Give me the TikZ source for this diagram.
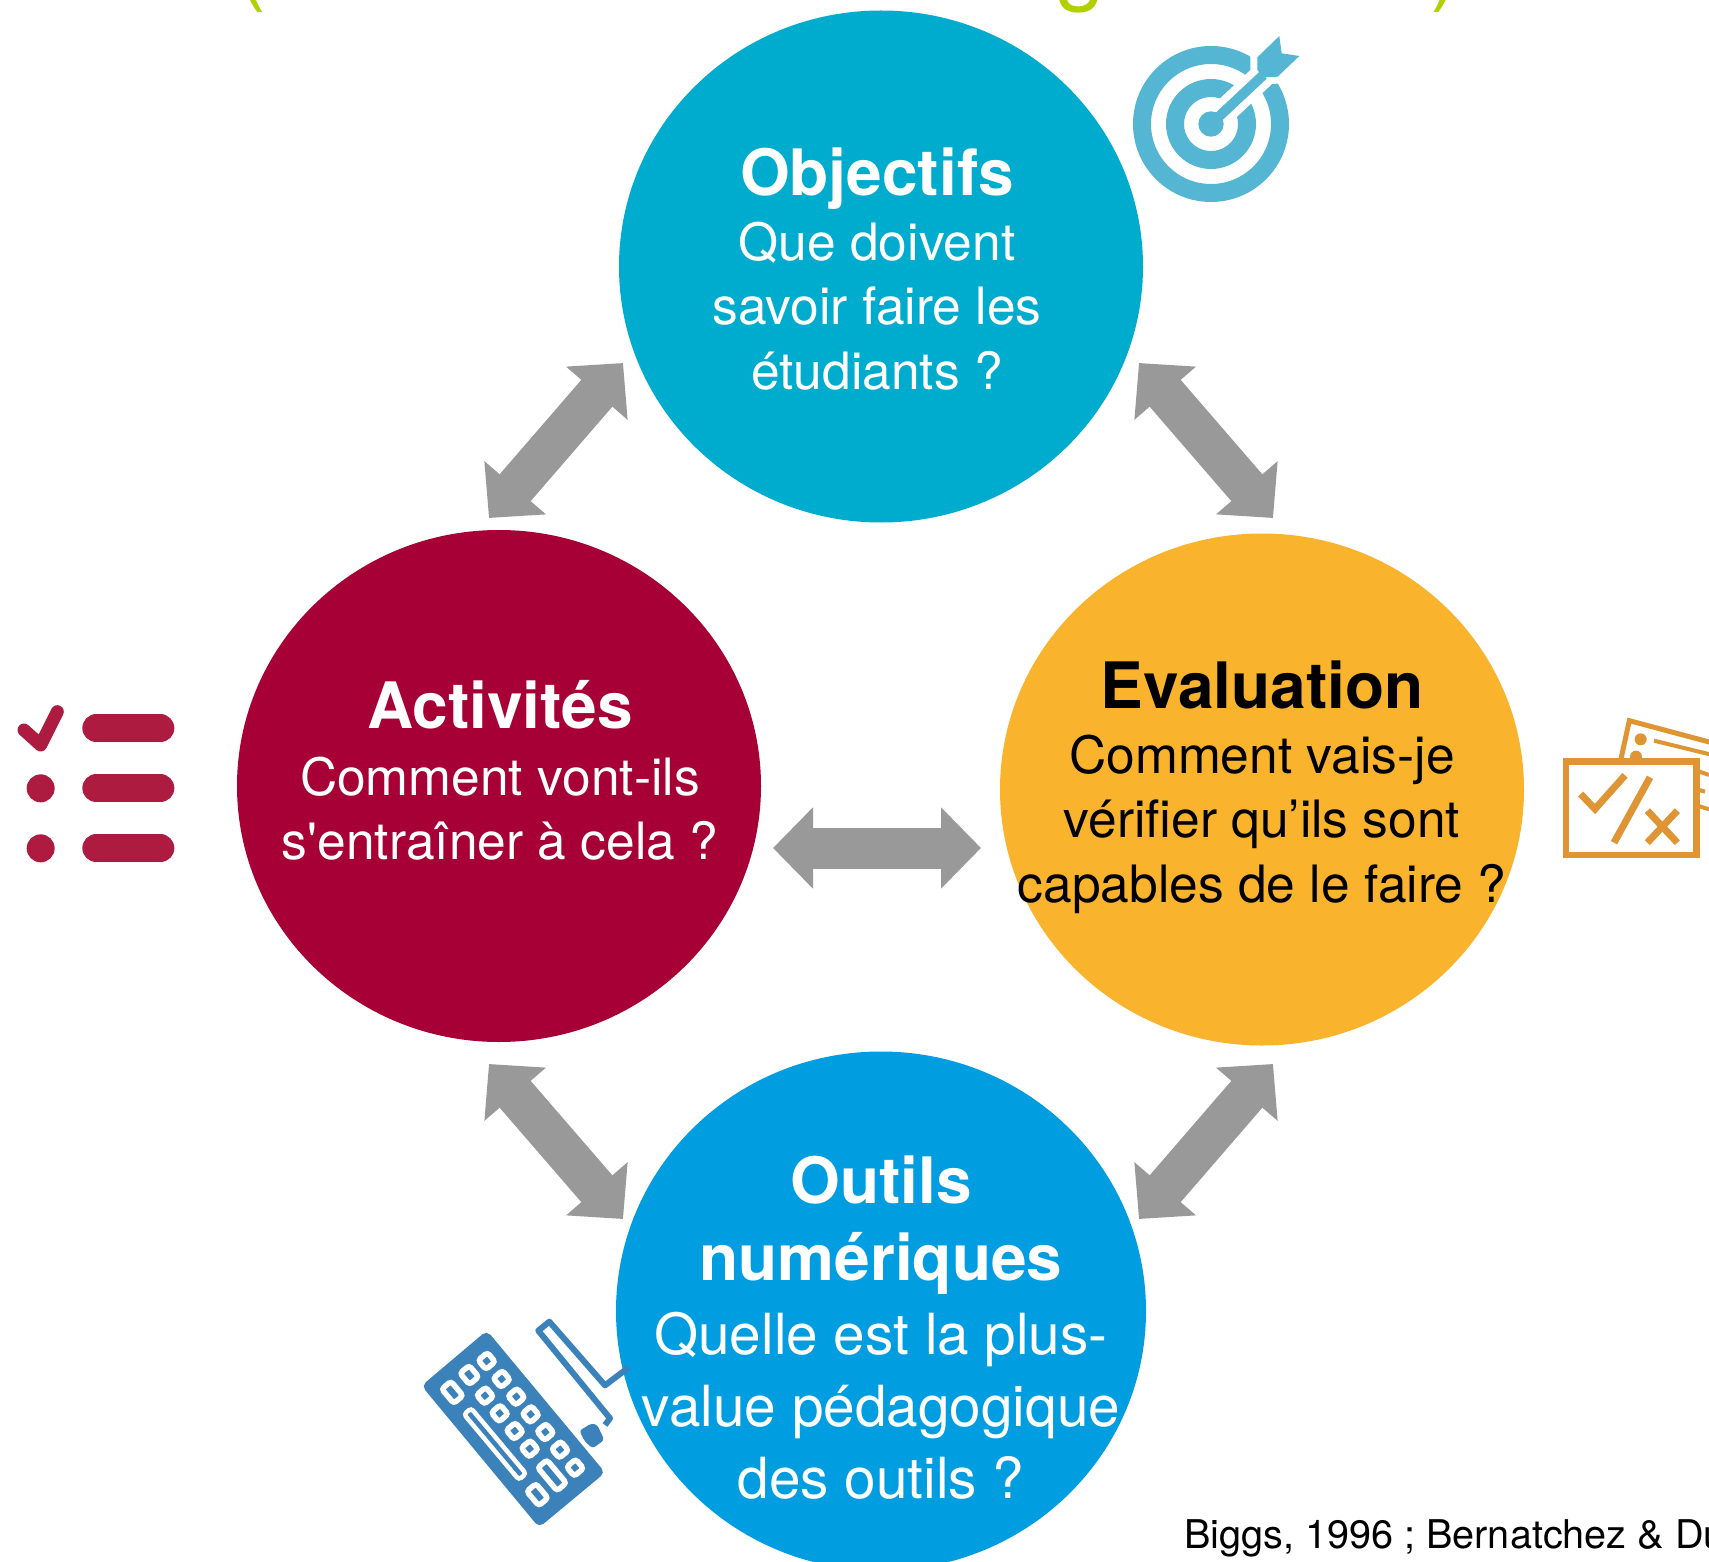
\documentclass[tikz,border=0pt]{standalone}
\usepackage{fontspec}
\setmainfont[Ligatures=TeXOff]{TeX Gyre Heros}
\usepackage{xcolor}
\usetikzlibrary{arrows.meta,positioning,calc,shapes.geometric}
\definecolor{objblue}{HTML}{00ACCD}
\definecolor{actred}{HTML}{A70037}
\definecolor{evalyellow}{HTML}{F9B32D}
\definecolor{toolblue}{HTML}{009DE0}
\definecolor{targetblue}{HTML}{55B6D3}
\definecolor{listred}{HTML}{AE1B40}
\definecolor{evalorange}{HTML}{DF9533}
\definecolor{keyblue}{HTML}{3B82BA}
\definecolor{arrowgray}{HTML}{999999}
\definecolor{titlegreen}{HTML}{B2D000}
\tikzset{
  bubble/.style={ellipse,inner sep=0pt,minimum width=524pt,minimum height=512pt},
  heading/.style={anchor=base,inner sep=0pt,font=\bfseries\fontsize{64}{70}\selectfont},
  bodytext/.style={anchor=base,inner sep=0pt,font=\fontsize{51.5}{60}\selectfont},
  bodybig/.style={anchor=base,inner sep=0pt,font=\fontsize{56.7}{66}\selectfont},
  titlebit/.style={anchor=base,inner sep=0pt,text=titlegreen,font=\fontsize{90}{100}\selectfont},
  bigarrow/.style={arrowgray,line width=41pt,
    {Triangle[length=40pt,width=79pt]}-{Triangle[length=40pt,width=79pt]}},
  keyring/.style={draw=white,line width=5.5pt,rounded corners=3pt},
}
\begin{document}
\begin{tikzpicture}[x=1pt,y=-1pt]
        \clip (0,0) rectangle (1709,1562);
        \fill[white] (0,0) rectangle (1709,1562);

        % Cut off title
        \node[titlebit] (titleopen) at (251,-6) {(};
        \node[titlebit] (titleg) at (1081,-6) {g};
        \node[titlebit] (titleclose) at (1445,-6) {)};

        % Circles
        \node[bubble,fill=objblue] (objectifs) at (881,266.5) {};
        \node[bubble,fill=actred] (activites) at (499,786) {};
        \node[bubble,fill=evalyellow] (evaluation) at (1262,789.5) {};
        \node[bubble,fill=toolblue,minimum width=530pt,minimum height=519pt] (outils) at (881,1311) {};

        % Double arrows
        \coordinate (tla) at (623,363);
        \coordinate (tlb) at (489,518);
        \coordinate (tra) at (1139,363);
        \coordinate (trb) at (1273,518);
        \coordinate (mida) at (773,848);
        \coordinate (midb) at (981,848);
        \coordinate (bla) at (489,1064);
        \coordinate (blb) at (623,1219);
        \coordinate (bra) at (1273,1064);
        \coordinate (brb) at (1139,1219);
        \draw[bigarrow] (tla) -- (tlb);
        \draw[bigarrow] (tra) -- (trb);
        \draw[bigarrow] (mida) -- (midb);
        \draw[bigarrow] (bla) -- (blb);
        \draw[bigarrow] (bra) -- (brb);

        % Objectifs
        \node[heading,text=white] (objhead) at (877,196) {Objectifs};
        \foreach \txt/\yy [count=\i] in {Que doivent/261,savoir faire les/325,étudiants ?/389} {
            \node[bodytext,text=white] (objline\i) at (877,\yy) {\txt};
        }

        % Activites
        \node[heading,text=white] (acthead) at (500,728) {Activités};
        \foreach \txt/\yy [count=\i] in {Comment vont-ils/795,s'entraîner à cela ?/859} {
            \node[bodytext,text=white] (actline\i) at (500,\yy) {\txt};
        }

        % Evaluation
        \node[heading,text=black] (evalhead) at (1262,708) {Evaluation};
        \foreach \txt/\yy [count=\i] in {Comment vais-je/773,vérifier qu’ils sont/837,capables de le faire ?/902} {
            \node[bodytext,text=black] (evalline\i) at (1262,\yy) {\txt};
        }

        % Outils
        \foreach \txt/\yy [count=\i] in {Outils/1203,numériques/1280} {
            \node[heading,text=white] (toolhead\i) at (881,\yy) {\txt};
        }
        \foreach \txt/\yy [count=\i] in {Quelle est la plus-/1354,value pédagogique/1426,des outils ?/1498} {
            \node[bodybig,text=white] (toolline\i) at (881,\yy) {\txt};
        }

        % Citation
        \node[anchor=base west,inner sep=0pt,font=\fontsize{39.6}{46}\selectfont] (citation) at (1184,1548) {Biggs, 1996 ; Bernatchez \& Du};

        % Target icon
        \begin{scope}[shift={(1100,0)},scale=1/3]
            \draw[targetblue,line width=18pt] (333,372) circle (207);
            \draw[targetblue,line width=18pt] (333,372) circle (108);
            \draw[white,line width=25pt] (333,372) -- (490,225);
            \fill[targetblue] (333,372) circle (38);
            \draw[white,line width=14pt,fill=white] (472,172) -- (538,108) -- (545,160) -- (598,168) -- (533,230) -- (490,232) -- (472,210) -- cycle;
            \draw[targetblue,line width=10pt] (333,372) -- (490,225);
            \fill[targetblue] (472,172) -- (538,108) -- (545,160) -- (598,168) -- (533,230) -- (490,232) -- (472,210) -- cycle;
        \end{scope}

        % List icon
        \begin{scope}[shift={(0,690)},scale=1/3]
            \foreach \yy in {115,295,475} {
                \draw[listred,line width=28pt,line cap=round] (289,\yy) -- (481,\yy);
            }
            \fill[listred] (122,295) circle (42);
            \fill[listred] (122,475) circle (42);
            \draw[listred,line width=13pt,line cap=round,line join=round] (72,120) -- (122,165) -- (172,65);
        \end{scope}

        % Test icon
        \begin{scope}[shift={(1540,700)},scale=1/3]
            \draw[evalorange,line width=5pt] (240,190) -- (268,62) -- (530,132);
            \fill[evalorange] (302,118) circle (18);
            \fill[evalorange] (288,170) circle (18);
            \draw[evalorange,line width=4pt] (342,122) -- (530,168);
            \draw[evalorange,line width=4pt] (470,212) -- (507,225);
            \draw[evalorange,line width=4pt] (470,268) -- (495,275);
            \draw[evalorange,line width=4pt] (470,316) -- (507,328);
            \draw[evalorange,line width=6.7pt,fill=white] (78,185) rectangle (470,465);
            \draw[evalorange,line width=7pt] (122,282) -- (165,327) -- (255,226);
            \draw[evalorange,line width=7pt] (330,232) -- (222,428);
            \draw[evalorange,line width=7pt] (322,332) -- (412,428);
            \draw[evalorange,line width=7pt] (412,332) -- (322,428);
        \end{scope}

        % Keyboard icon
        \begin{scope}[shift={(410,1300)},scale=1/3]
            \fill[keyblue,draw=keyblue,line width=4pt,rounded corners=4pt] (230,100) -- (43,258) -- (388,674) -- (577,517) -- cycle;
            \foreach \xx/\yy in {230/183,275/237,225/287,319/290,269/340,362/343,314/393,406/396,359/446,450/449,495/503} {
                \draw[keyring,shift={(\xx,\yy)},rotate=40] (-18,-18) rectangle (18,18);
            }
            \draw[keyring,rotate around={40:(127,277)}] (-18+127,-28+277) rectangle (18+127,28+277);
            \draw[keyring,rotate around={40:(178,225)}] (-18+178,-22+225) rectangle (18+178,22+225);
            \draw[keyring,line width=4.5pt,rotate around={40:(255,432)}] (-14+255,-128+432) rectangle (14+255,128+432);
            \draw[keyring,rotate around={40:(426,526)}] (-18+426,-45+526) rectangle (18+426,45+526);
            \draw[keyring,rotate around={40:(382,584)}] (-18+382,-28+584) rectangle (18+382,28+584);
            % wire and plug
            \draw[keyblue,line width=6pt,line join=round] (655,203) -- (585,256) -- (418,65) -- (385,92) -- (600,355) -- (585,375);
            \fill[keyblue,rounded corners=3pt] (508,392) -- (545,370) -- (562,375) -- (583,420) -- (548,445) -- (525,425) -- cycle;
        \end{scope}
\end{tikzpicture}
\end{document}
